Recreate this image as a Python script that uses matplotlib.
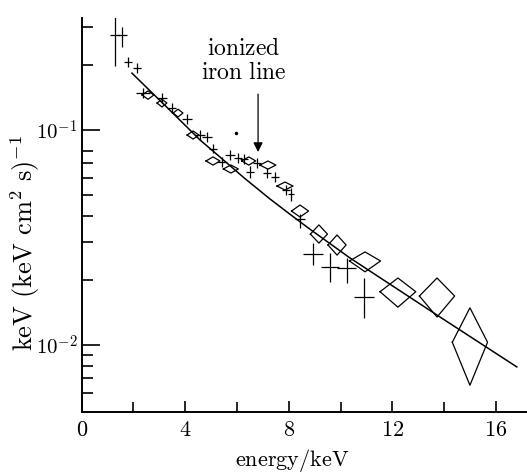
import matplotlib
matplotlib.use("Agg")
import matplotlib.pyplot as plt
import numpy as np

plt.rcParams['mathtext.fontset'] = 'cm'
plt.rcParams['font.family'] = ['DejaVu Serif']

# crosses: error-bar points
cx = [1.29, 1.56, 1.79, 2.14, 2.37, 3.10, 3.49, 4.07, 4.57, 4.84, 5.07, 5.42, 5.73,
      6.03, 6.26, 6.50, 6.77, 7.15, 7.46, 7.89, 8.08, 8.43, 8.93, 9.59, 10.24, 10.90]
cy = [0.277, 0.277, 0.207, 0.194, 0.149, 0.141, 0.1265, 0.113, 0.0948, 0.0928, 0.082, 0.0710, 0.0765,
      0.0741, 0.0733, 0.0638, 0.0702, 0.0631, 0.0604, 0.0526, 0.0504, 0.0385, 0.0265, 0.0231, 0.0228, 0.0167]
cxerr = [0.19, 0.19, 0.15, 0.15, 0.27, 0.19, 0.15, 0.19, 0.19, 0.19, 0.15, 0.19, 0.19,
         0.15, 0.15, 0.15, 0.15, 0.15, 0.15, 0.15, 0.12, 0.19, 0.39, 0.35, 0.37, 0.37]
cylo = [0.199, 0.243, 0.196, 0.184, 0.141, 0.134, 0.120, 0.107, 0.090, 0.088, 0.078, 0.0673, 0.0725,
        0.0702, 0.0695, 0.0596, 0.0665, 0.0598, 0.0572, 0.0498, 0.0470, 0.0350, 0.0236, 0.0196, 0.0194, 0.01336]
cyhi = [0.350, 0.301, 0.218, 0.205, 0.157, 0.149, 0.133, 0.119, 0.100, 0.098, 0.0865, 0.0749, 0.0807,
        0.0782, 0.0773, 0.0683, 0.0741, 0.0666, 0.0637, 0.0555, 0.0540, 0.0405, 0.0298, 0.0268, 0.0254, 0.0205]

# diamonds
dx_ = [2.56, 3.10, 3.72, 4.30, 5.07, 5.76, 6.45, 7.19, 7.85, 8.43, 9.16, 9.86, 10.94, 12.21, 13.72, 14.99]
dy_ = [0.1456, 0.1336, 0.120, 0.0948, 0.0718, 0.0659, 0.0718, 0.0687, 0.0549, 0.0420, 0.0328, 0.0292,
       0.0246, 0.0177, 0.0169, 0.0103]
ddx = [0.23, 0.19, 0.19, 0.23, 0.27, 0.29, 0.27, 0.31, 0.31, 0.33, 0.33, 0.35, 0.60, 0.69, 0.68, 0.68]
dylo = [0.139, 0.128, 0.115, 0.0908, 0.0687, 0.0631, 0.0687, 0.0658, 0.0526, 0.0394, 0.0298, 0.0262,
        0.0219, 0.0150, 0.0135, 0.0065]
dyhi = [0.152, 0.139, 0.125, 0.099, 0.0750, 0.0688, 0.0750, 0.0718, 0.0573, 0.0448, 0.0362, 0.0325,
        0.0271, 0.0205, 0.0205, 0.0149]

# model fit line
fx = [1.94, 3.25, 4.57, 5.34, 6.30, 7.27, 8.04, 8.81, 10.36, 13.72, 16.80]
fy = [0.184, 0.129, 0.0899, 0.0749, 0.0595, 0.0478, 0.0406, 0.0346, 0.0254, 0.01378, 0.00791]

xticks = [0, 4, 8, 12, 16]
xminor = [2, 6, 10, 14]
ymajor = [0.01, 0.1]
yminor = [0.006, 0.007, 0.008, 0.009, 0.02, 0.03, 0.04, 0.05, 0.06, 0.07, 0.08, 0.2, 0.3]

fig = plt.figure(figsize=(5.27, 4.74), dpi=100)
ax = fig.add_axes([0.155, 0.1308, 0.8453, 0.8312])
ax.set_yscale('log')
ax.set_xlim(0, 17.2)
ax.set_ylim(0.00488, 0.332)

ax.plot(fx, fy, color='black', lw=1.1)

yerr = [np.array(cy) - np.array(cylo), np.array(cyhi) - np.array(cy)]
ax.errorbar(cx, cy, xerr=cxerr, yerr=yerr, fmt='none', ecolor='black', elinewidth=0.9, capsize=0)

for x, y, d, lo, hi in zip(dx_, dy_, ddx, dylo, dyhi):
    ax.plot([x - d, x, x + d, x, x - d], [y, hi, y, lo, y], color='black', lw=0.9)

# speck
ax.plot([5.96], [0.0968], 'o', color='black', ms=1.5)

ax.annotate('', xy=(6.81, 0.079), xytext=(6.81, 0.147),
            arrowprops=dict(arrowstyle='-|>', color='black', lw=0.9, mutation_scale=14,
                            shrinkA=0, shrinkB=0))
ax.text(6.25, 0.21, '$\\mathrm{ionized}$\n$\\mathrm{iron\\ line}$', ha='center', va='center',
        fontsize=17, multialignment='center', linespacing=1.05)

for s in ['top', 'right']:
    ax.spines[s].set_visible(False)
for s in ['left', 'bottom']:
    ax.spines[s].set_linewidth(1.4)

ax.set_xticks(xticks)
ax.set_xticklabels(['$%d$' % v for v in xticks], fontsize=16)
ax.set_xticks(xminor, minor=True)
ax.set_yticks(ymajor)
ax.set_yticklabels(['$10^{-2}$', '$10^{-1}$'], fontsize=15)
ax.set_yticks(yminor, minor=True)
ax.yaxis.set_minor_formatter(matplotlib.ticker.NullFormatter())
ax.tick_params(axis='both', which='both', direction='in', color='black', width=1.2)
ax.tick_params(axis='y', which='major', length=13, pad=3)
ax.tick_params(axis='y', which='minor', length=8)
ax.tick_params(axis='x', which='major', length=8, pad=5)
ax.tick_params(axis='x', which='minor', length=7)

ax.set_xlabel('$\\mathrm{energy/keV}$', fontsize=16)
ax.set_ylabel('$\\mathrm{keV\\ (keV\\ cm^2\\ s)^{-1}}$', fontsize=19)
ax.xaxis.set_label_coords(0.472, -0.088)
ax.yaxis.set_label_coords(-0.09, 0.43)

fig.savefig('out.png', dpi=100)
